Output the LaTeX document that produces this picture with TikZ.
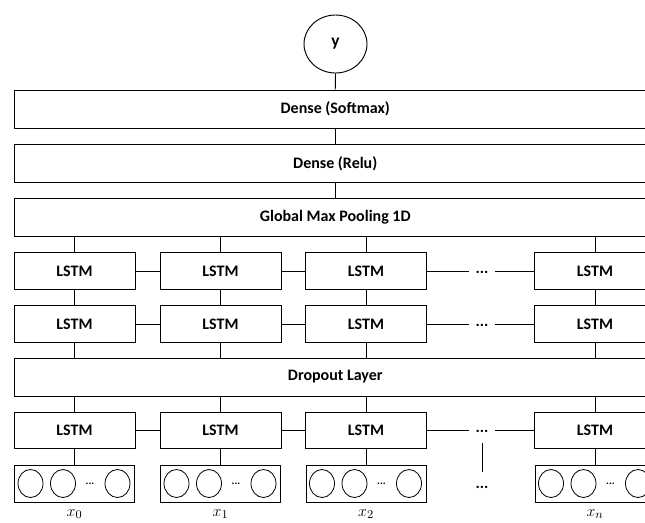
\documentclass[tikz,border=0pt]{standalone}
\usepackage{fontspec}
\setmainfont{Carlito}
\usetikzlibrary{shapes.geometric}
\begin{document}
\begin{tikzpicture}[x=0.75pt,y=-0.75pt,
  wide/.style={draw, line width=0.7pt, minimum width=481.1pt, minimum height=28.5pt, inner sep=0, font=\fontsize{12}{14}\selectfont\bfseries},
  lstm/.style={draw, line width=0.7pt, minimum width=90.75pt, minimum height=27.4pt, inner sep=0, font=\fontsize{12}{14}\selectfont\bfseries},
  inbox/.style={draw, line width=0.7pt, minimum width=90pt, minimum height=27.75pt, inner sep=0},
  unit/.style={draw, ellipse, line width=0.6pt, minimum width=18.75pt, minimum height=21pt, inner sep=0},
  outc/.style={draw, ellipse, line width=0.7pt, minimum width=47.25pt, minimum height=43.5pt, inner sep=0, font=\fontsize{13}{15}\selectfont\bfseries},
  link/.style={line width=0.7pt},
  dotsn/.style={inner ysep=0, inner xsep=5pt, font=\fontsize{12}{14}\selectfont\bfseries},
  sdots/.style={inner sep=0, font=\fontsize{8}{9}\selectfont\bfseries},
  xlab/.style={inner sep=0, font=\fontsize{13}{15}\selectfont}]
\clip (0,0) rectangle (645,522);
% output
\node[outc] (y) at (335.5,44) {y};
\node[wide] (soft) at (335.25,109) {Dense (Softmax)};
\node[wide] (relu) at (335.25,163.5) {Dense (Relu)};
\node[wide] (gmp) at (335.25,217.5) {Global Max Pooling 1D};
\node[wide] (drop) at (335.25,377) {Dropout Layer};
\draw[link] (y.south) -- (soft.north);
\draw[link] (soft.south -| y.south) -- (relu.north -| y.south);
\draw[link] (relu.south -| y.south) -- (gmp.north -| y.south);
% columns
\foreach \i/\cx/\lab in {1/74.5/x_0,2/220.5/x_1,3/366/x_2,4/595/x_n}{
  \node[lstm] (a\i) at (\cx,271) {LSTM};
  \node[lstm] (b\i) at (\cx,324) {LSTM};
  \node[lstm] (c\i) at (\cx,430.5) {LSTM};
  \node[inbox] (in\i) at (\cx,483.5) {};
  \node[unit] (u\i a) at (\cx-44,483.5) {};
  \node[unit] (u\i b) at (\cx-11.5,483.5) {};
  \node[sdots] (s\i) at (\cx+15.5,484) {...};
  \node[unit] (u\i c) at (\cx+43,483.5) {};
  \node[xlab] (x\i) at (\cx,514) {$\lab$};
  \draw[link] (gmp.south -| a\i.north) -- (a\i.north);
  \draw[link] (a\i.south) -- (b\i.north);
  \draw[link] (b\i.south) -- (drop.north -| b\i.south);
  \draw[link] (drop.south -| c\i.north) -- (c\i.north);
  \draw[link] (c\i.south) -- (in\i.north);
}
% horizontal links
\node[dotsn] (da) at (482,272) {...};
\node[dotsn] (db) at (482,325) {...};
\node[dotsn] (dc) at (482,431.5) {...};
\foreach \r in {a,b,c}{
  \draw[link] (\r1.east) -- (\r2.west);
  \draw[link] (\r2.east) -- (\r3.west);
  \draw[link] (\r3.east) -- (d\r.west |- \r3.east);
  \draw[link] (d\r.east |- \r4.west) -- (\r4.west);
}
% extra column of dots
\node[dotsn] (dcol) at (482,487) {...};
\coordinate (vt) at (482,443);
\coordinate (vb) at (482,472);
\draw[link] (vt) -- (vb);
\end{tikzpicture}
\end{document}
